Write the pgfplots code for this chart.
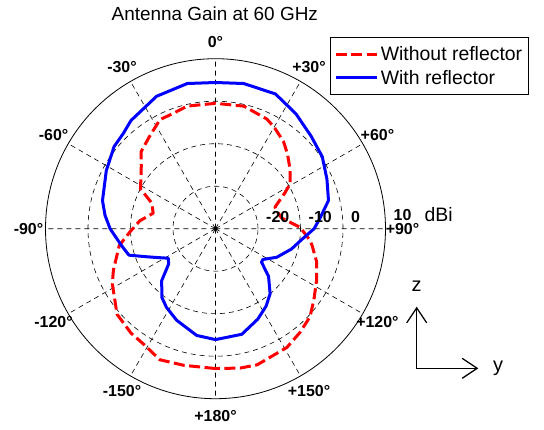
\documentclass[border=0pt]{standalone}
\usepackage{fontspec}
\setmainfont{Liberation Sans}
\usepackage{pgfplots}
\pgfplotsset{compat=1.18}
\usepackage{pgfplotstable}
\usepgfplotslibrary{polar}
\usetikzlibrary{arrows.meta}

% theta: degrees from the top, clockwise positive; gain in dBi
\pgfplotstableread{
theta gain
-180 2.9
-167 3.0
-157 3.5
-148 2.0
-141 1.6
-131 0.7
-118 -2.5
-112 -4.1
-100 -7.0
-92 -9.9
-84 -12.1
-76 -14.9
-68 -13.8
-62 -10.0
-55 -8.6
-50 -7.2
-44 -4.8
-36 -3.4
-27 -1.2
-20 -1.1
-13 -0.4
0 -0.5
13 -0.4
25 -1.5
30 -2.4
38 -4.0
44 -5.6
52 -7.7
59 -9.5
63 -11.8
70 -15.1
76 -14.8
81 -14.2
89 -10.1
97 -7.6
100 -6.9
108 -5.0
117 -3.3
126 -1.4
133 0.4
141 1.5
149 2.6
163 3.5
170 3.3
180 2.9
}\withoutrefl

\pgfplotstableread{
theta gain
-180 -3.9
-170 -4.5
-157 -6.6
-148 -8.2
-142 -9.5
-134 -12.4
-127 -16.2
-122 -16.9
-117 -15.0
-112 -12.4
-107 -8.7
-100 -7.5
-90 -5.2
-83 -3.8
-76 -2.6
-62 -0.9
-51 0.7
-44 1.2
-38 2.3
-24 4.1
-11 4.8
0 4.4
11 4.8
24 4.7
35 3.0
46 1.3
56 0.3
66 -1.3
76 -2.6
85 -5.5
90 -6.8
97 -9.5
105 -11.5
115 -14.1
123 -16.7
126 -16.6
132 -13.2
140 -10.0
147 -8.2
155 -6.5
166 -4.4
180 -3.9
}\withrefl

\tikzset{
  ang/.style={font=\fontsize{16}{18}\selectfont\bfseries, inner sep=0pt, anchor=center},
  rlab/.style={font=\fontsize{16}{18}\selectfont\bfseries, inner sep=0pt, anchor=south west, xshift=8bp, yshift=6bp},
}

\begin{document}
\begin{tikzpicture}
\begin{polaraxis}[
  scale only axis, width=340bp, height=340bp,
  xmin=0, xmax=360, ymin=0, ymax=40,
  xtick={0,30,...,330}, ytick={10,20,30},
  xticklabels={,,,,,,,,,,,,}, yticklabels={,,,},
  major tick length=0pt,
  xmajorgrids, ymajorgrids,
  major grid style={black, line width=0.6bp, dash pattern=on 5bp off 4bp},
  axis line style={black, line width=0.8bp},
  y axis line style={draw=none},
  clip=false,
  x filter/.expression={90-x},
  y filter/.expression={y+30},
  legend style={at={(axis cs:0,0)}, anchor=north west, xshift=114.4bp, yshift=191.2bp,
    draw=black, line width=0.8bp, font=\fontsize{19.5}{22}\selectfont,
    inner xsep=4bp, inner ysep=7bp, row sep=3.6bp, cells={anchor=west}},
  legend image code/.code={\draw[#1] (1bp,0bp) -- (42.5bp,0bp);},
]
\addplot[red, line width=3bp, dash pattern=on 11bp off 4.5bp, line join=round] table[x=theta, y=gain] {\withoutrefl};
\addlegendentry{Without reflector\hspace{8bp}}
\addplot[blue, line width=3bp, line join=round] table[x=theta, y=gain] {\withrefl};
\addlegendentry{With reflector}

\coordinate (O) at (axis cs:0,0);
\node[ang] at (axis cs:90,44) {0°};
\node[ang] at (axis cs:60,44) {+30°};
\node[ang] at (axis cs:30,44) {+60°};
\node[ang] at (axis cs:0,44) {+90°};
\node[ang] at (axis cs:-30,44) {+120°};
\node[ang] at (axis cs:-60,44) {+150°};
\node[ang] at (axis cs:-90,44) {+180°};
\node[ang] at (axis cs:240,44) {-150°};
\node[ang] at (axis cs:210,44) {-120°};
\node[ang] at (axis cs:180,44) {-90°};
\node[ang] at (axis cs:150,44) {-60°};
\node[ang] at (axis cs:120,44) {-30°};

\node[rlab] at (axis cs:0,10) {-20};
\node[rlab] at (axis cs:0,20) {-10};
\node[rlab] at (axis cs:0,30) {0};
\node[rlab, yshift=2bp] at (axis cs:0,40) {10};
\end{polaraxis}

\node[anchor=base west, inner sep=0pt, font=\fontsize{19.5}{22}\selectfont] at ([xshift=208.8bp,yshift=7bp]O) {dBi};
\node[anchor=base, inner sep=0pt, font=\fontsize{19}{22}\selectfont] at ([xshift=-0.7bp,yshift=208bp]O) {Antenna Gain at 60 GHz};

\draw[line width=1.3bp, {Straight Barb[length=15bp,width=20bp]}-{Straight Barb[length=15bp,width=20bp]}]
  ([xshift=201.2bp,yshift=-78bp]O) -- ([xshift=201.2bp,yshift=-139.6bp]O) -- ([xshift=262.8bp,yshift=-139.6bp]O);
\node[anchor=base, inner sep=0pt, font=\fontsize{20}{22}\selectfont] at ([xshift=201.2bp,yshift=-63bp]O) {z};
\node[anchor=base, inner sep=0pt, font=\fontsize{20}{22}\selectfont] at ([xshift=282.5bp,yshift=-143.3bp]O) {y};

\pgfresetboundingbox
\path[use as bounding box] ([xshift=-215.5bp,yshift=228.7bp]O) rectangle ([xshift=328.5bp,yshift=-201.3bp]O);
\end{tikzpicture}
\end{document}
